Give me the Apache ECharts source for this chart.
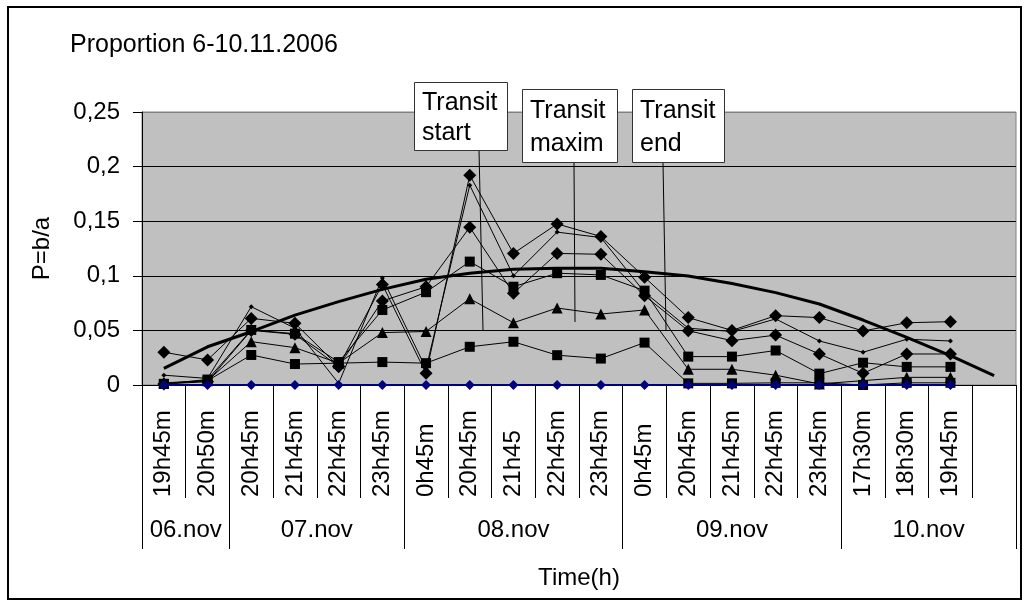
<!DOCTYPE html>
<html><head><meta charset="utf-8">
<script src="https://cdn.jsdelivr.net/npm/echarts@6/dist/echarts.min.js"></script>
<style>html,body{margin:0;padding:0;background:#fff}#c{width:1029px;height:608px}</style>
</head><body><div id="c"></div>
<script>
// ---- data ----
const categories = ['19h45m','20h50m','20h45m','21h45m','22h45m','23h45m','0h45m','20h45m','21h45','22h45m','23h45m','0h45m','20h45m','21h45m','22h45m','23h45m','17h30m','18h30m','19h45m',''];
const groups = ['06.nov','07.nov','08.nov','09.nov','10.nov'];
const groupSpans = [2,4,5,5,4];
const yMin = 0, yMax = 0.25, yStep = 0.05;

const zeroSeries   = [0,0,0,0,0,0,0,0,0,0,0,0,0,0,0,0,0,0,0];
const diamondA     = [0.030,0.023,0.061,0.0565,0.017,0.092,0.0107,0.192,0.1205,0.1475,0.136,0.0987,0.0617,0.050,0.0635,0.0617,0.0495,0.057,0.058];
const smallMarks   = [0.009,0.006,0.0717,0.052,0.0015,0.098,0.015,0.183,0.100,0.140,0.135,0.085,0.052,0.049,0.0605,0.0403,0.030,0.0419,0.0403];
const diamondB     = [0.001,0.003,0.050,0.0464,0.017,0.077,0.090,0.1445,0.084,0.1205,0.1197,0.0818,0.0497,0.0406,0.0457,0.0284,0.0107,0.0284,0.0284];
const squareA      = [0.001,0.005,0.0504,0.047,0.021,0.0687,0.085,0.113,0.090,0.1024,0.1008,0.0864,0.026,0.026,0.0316,0.0104,0.0204,0.0166,0.0166];
const triangleA    = [0.002,0.004,0.0397,0.0342,0.020,0.048,0.049,0.079,0.057,0.0705,0.065,0.0687,0.0144,0.0144,0.009,0.001,0.004,0.007,0.007];
const squareB      = [0.001,0.004,0.0275,0.0192,0.020,0.021,0.020,0.035,0.0396,0.0273,0.0242,0.0388,0.0015,0.0015,0.002,0.002,0.000,0.002,0.002];
const theoryCurve  = [0.0153,0.035,0.0488,0.064,0.0763,0.0876,0.0968,0.1023,0.106,0.107,0.107,0.1038,0.0998,0.093,0.0846,0.0742,0.0595,0.0437,0.0269,0.0085];

// ---- build group axis (half-slot resolution) ----
const groupAxisData = new Array(categories.length * 2 + 1).fill('');
const groupTicks = new Set([0]);
let start = 0;
groups.forEach((g, i) => {
  groupAxisData[start * 2 + groupSpans[i]] = g;
  start += groupSpans[i];
  groupTicks.add(start * 2);
});

const FONT = "'Liberation Sans', Arial, sans-serif";
const chart = echarts.init(document.getElementById('c'), null, {renderer: 'canvas'});

function lineSeries(name, data, symbol, size, extra) {
  return Object.assign({
    name, type: 'line', data, symbol, symbolSize: size, showSymbol: true,
    xAxisIndex: 0, yAxisIndex: 0,
    lineStyle: {color: '#000', width: 1},
    itemStyle: {color: '#000', borderWidth: 0},
    z: 3, animation: false, emphasis: {disabled: true}
  }, extra || {});
}

chart.setOption({
  animation: false,
  textStyle: {fontFamily: FONT},
  grid: {left: 142, right: 13, top: 112, bottom: 223, show: true, backgroundColor: '#C0C0C0', borderColor: '#808080', borderWidth: 1},
  xAxis: [
    {
      type: 'category', data: categories, boundaryGap: true, position: 'bottom',
      axisLine: {show: true, lineStyle: {color: '#000', width: 1}},
      axisTick: {show: true, interval: 0, length: 113, lineStyle: {color: '#000', width: 1}},
      axisLabel: {interval: 0, rotate: 90, align: 'left', verticalAlign: 'middle', margin: 112, fontSize: 24, color: '#000', fontFamily: FONT},
      splitLine: {show: false}
    },
    {
      type: 'category', data: groupAxisData, boundaryGap: false, position: 'bottom',
      axisLine: {show: false},
      axisTick: {show: true, interval: (i) => groupTicks.has(i), length: 164, lineStyle: {color: '#000', width: 1}},
      axisLabel: {interval: (i, v) => v !== '', margin: 133, fontSize: 24, color: '#000', fontFamily: FONT},
      splitLine: {show: false},
      name: 'Time(h)', nameLocation: 'middle', nameGap: 181,
      nameTextStyle: {fontSize: 24, color: '#000', fontFamily: FONT}
    }
  ],
  yAxis: {
    type: 'value', min: yMin, max: yMax, interval: yStep,
    axisLine: {show: true, lineStyle: {color: '#000', width: 1}},
    axisTick: {show: true, length: 9, lineStyle: {color: '#000'}},
    axisLabel: {margin: 22, fontSize: 24, color: '#000', fontFamily: FONT,
      formatter: v => String(+v.toFixed(2)).replace('.', ',')},
    splitLine: {show: true, lineStyle: {color: ['#000','#000','#000','#000','#000','#808080'], width: 1}},
    name: 'P=b/a', nameLocation: 'middle', nameGap: 88,
    nameTextStyle: {fontSize: 24, color: '#000', fontFamily: FONT}
  },
  series: [
    lineSeries('Theory', theoryCurve, 'none', 0, {lineStyle: {color: '#000', width: 3}, z: 2}),
    lineSeries('Set A', diamondA, 'diamond', 13),
    lineSeries('Set B', smallMarks, 'diamond', 5),
    lineSeries('Set C', diamondB, 'diamond', 13),
    lineSeries('Set D', squareA, 'rect', 10),
    lineSeries('Set E', triangleA, 'triangle', 11),
    lineSeries('Set F', squareB, 'rect', 10),
    lineSeries('Zero', zeroSeries, 'diamond', 10, {lineStyle: {color: '#000080', width: 2}, itemStyle: {color: '#000080'}, z: 4})
  ],
  graphic: [
    {type: 'rect', shape: {x: 8, y: 7, width: 1013, height: 592}, style: {fill: 'none', stroke: '#000', lineWidth: 2}, z: 100, silent: true},
    {type: 'text', left: 70, top: 33, style: {text: 'Proportion 6-10.11.2006', font: '25px ' + FONT, fill: '#000'}, z: 100},
    // callouts
    {type: 'line', shape: {x1: 479, y1: 150, x2: 483, y2: 330}, style: {stroke: '#000', lineWidth: 1}, z: 100},
    {type: 'line', shape: {x1: 574, y1: 163, x2: 575, y2: 322}, style: {stroke: '#000', lineWidth: 1}, z: 100},
    {type: 'line', shape: {x1: 663, y1: 163, x2: 666, y2: 330}, style: {stroke: '#000', lineWidth: 1}, z: 100},
    {type: 'rect', shape: {x: 414.5, y: 82.5, width: 93, height: 68}, style: {fill: '#fff', stroke: '#333', lineWidth: 1}, z: 101},
    {type: 'text', x: 422, y: 88, style: {text: 'Transit\nstart', font: '25px ' + FONT, lineHeight: 30, fill: '#000'}, z: 102},
    {type: 'rect', shape: {x: 522.5, y: 89.5, width: 95, height: 73}, style: {fill: '#fff', stroke: '#333', lineWidth: 1}, z: 101},
    {type: 'text', x: 530, y: 95, style: {text: 'Transit\nmaxim', font: '25px ' + FONT, lineHeight: 33, fill: '#000'}, z: 102},
    {type: 'rect', shape: {x: 632.5, y: 89.5, width: 92, height: 73}, style: {fill: '#fff', stroke: '#333', lineWidth: 1}, z: 101},
    {type: 'text', x: 640, y: 95, style: {text: 'Transit\nend', font: '25px ' + FONT, lineHeight: 33, fill: '#000'}, z: 102}
  ]
});
</script></body></html>
